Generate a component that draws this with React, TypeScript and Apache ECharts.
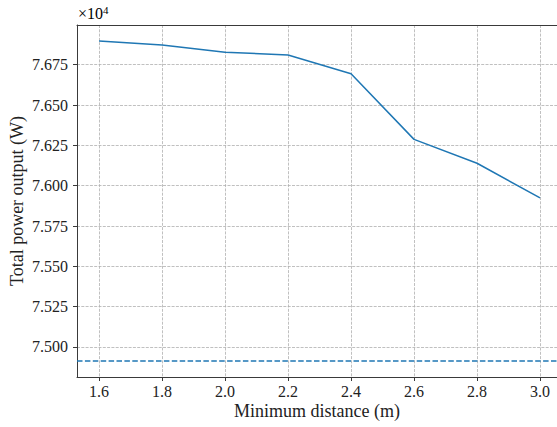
import React, { useEffect, useRef } from "react";
import * as echarts from "echarts";

// Minimum spacing (m) vs total power output (W)
const minDistance = [1.6, 1.8, 2.0, 2.2, 2.4, 2.6, 2.8, 3.0];
const totalPower = [76897, 76872, 76827, 76810, 76694, 76287, 76139, 75924];
// Baseline total power drawn as a horizontal dashed line
const baselinePower = 74913;

// Tick positions
const xTicks = [1.6, 1.8, 2.0, 2.2, 2.4, 2.6, 2.8, 3.0];
const yTicks = [75000, 75250, 75500, 75750, 76000, 76250, 76500, 76750];

const xLabelText = "Minimum distance (m)";
const yLabelText = "Total power output (W)";

const FONT = "'Liberation Serif', 'DejaVu Serif', serif";
const BLUE = "#1f77b4";
const SPINE = "#3a3a3a";
const GRID = "#b0b0b0";
const TEXT = "#222";

// The axes box runs past the right edge of the canvas
const X_MIN = 1.53;
const X_MAX = 3.0856;

export default function App() {
  const ref = useRef<HTMLDivElement>(null);

  useEffect(() => {
    document.body.style.margin = "0";
    if (!ref.current) return;
    const chart = echarts.init(ref.current, undefined, { renderer: "svg" });

    const axisLabelStyle = { color: TEXT, fontFamily: FONT, fontSize: 16 };
    const gridLine = { color: GRID, width: 0.8, type: [3, 1.3] };
    const spine = { show: true, lineStyle: { color: SPINE, width: 1 } };

    chart.setOption({
      animation: false,
      backgroundColor: "#fff",
      grid: {
        left: 77,
        top: 25,
        right: -10,
        bottom: 50,
        outerBoundsMode: "none",
        containLabel: false,
        show: false,
      },
      xAxis: [
        {
          type: "value",
          position: "bottom",
          min: X_MIN,
          max: X_MAX,
          axisLine: spine,
          axisTick: {
            show: true,
            length: 4,
            customValues: xTicks,
            lineStyle: { color: SPINE, width: 1 },
          },
          axisLabel: {
            ...axisLabelStyle,
            margin: 6,
            customValues: xTicks,
            formatter: (v: number) => v.toFixed(1),
          },
          splitLine: { show: true, lineStyle: gridLine },
        },
        {
          // top spine
          type: "value",
          position: "top",
          min: X_MIN,
          max: X_MAX,
          axisLine: spine,
          axisTick: { show: false },
          axisLabel: { show: false },
          splitLine: { show: false },
        },
      ],
      yAxis: {
        type: "value",
        min: 74814,
        max: 76996,
        axisLine: spine,
        axisTick: {
          show: true,
          length: 4,
          customValues: yTicks,
          lineStyle: { color: SPINE, width: 1 },
        },
        axisLabel: {
          ...axisLabelStyle,
          margin: 9,
          customValues: yTicks,
          formatter: (v: number) => (v / 1e4).toFixed(3),
        },
        splitLine: { show: true, lineStyle: gridLine },
      },
      graphic: [
        {
          type: "text",
          x: 78,
          y: 4,
          style: {
            text: "{a|×10}{b|4}",
            rich: {
              a: { fontFamily: FONT, fontSize: 16, color: TEXT },
              b: {
                fontFamily: FONT,
                fontSize: 11,
                color: TEXT,
                padding: [0, 0, 8, 0],
              },
            },
          },
        },
        {
          type: "text",
          x: 317,
          y: 411,
          style: {
            text: xLabelText,
            fill: TEXT,
            font: `18px ${FONT}`,
            align: "center",
            verticalAlign: "middle",
          },
        },
        {
          type: "text",
          x: 17,
          y: 201,
          rotation: Math.PI / 2,
          style: {
            text: yLabelText,
            fill: TEXT,
            font: `18px ${FONT}`,
            align: "center",
            verticalAlign: "middle",
          },
        },
      ],
      series: [
        {
          type: "line",
          xAxisIndex: 0,
          data: minDistance.map((d, i) => [d, totalPower[i]]),
          showSymbol: false,
          lineStyle: { color: BLUE, width: 1.5 },
          itemStyle: { color: BLUE },
          markLine: {
            silent: true,
            symbol: "none",
            label: { show: false },
            lineStyle: { color: BLUE, width: 1.5, type: [5.5, 2.4] },
            data: [{ yAxis: baselinePower }],
          },
        },
      ],
    });

    return () => chart.dispose();
  }, []);

  return <div ref={ref} style={{ width: 557, height: 427 }} />;
}
